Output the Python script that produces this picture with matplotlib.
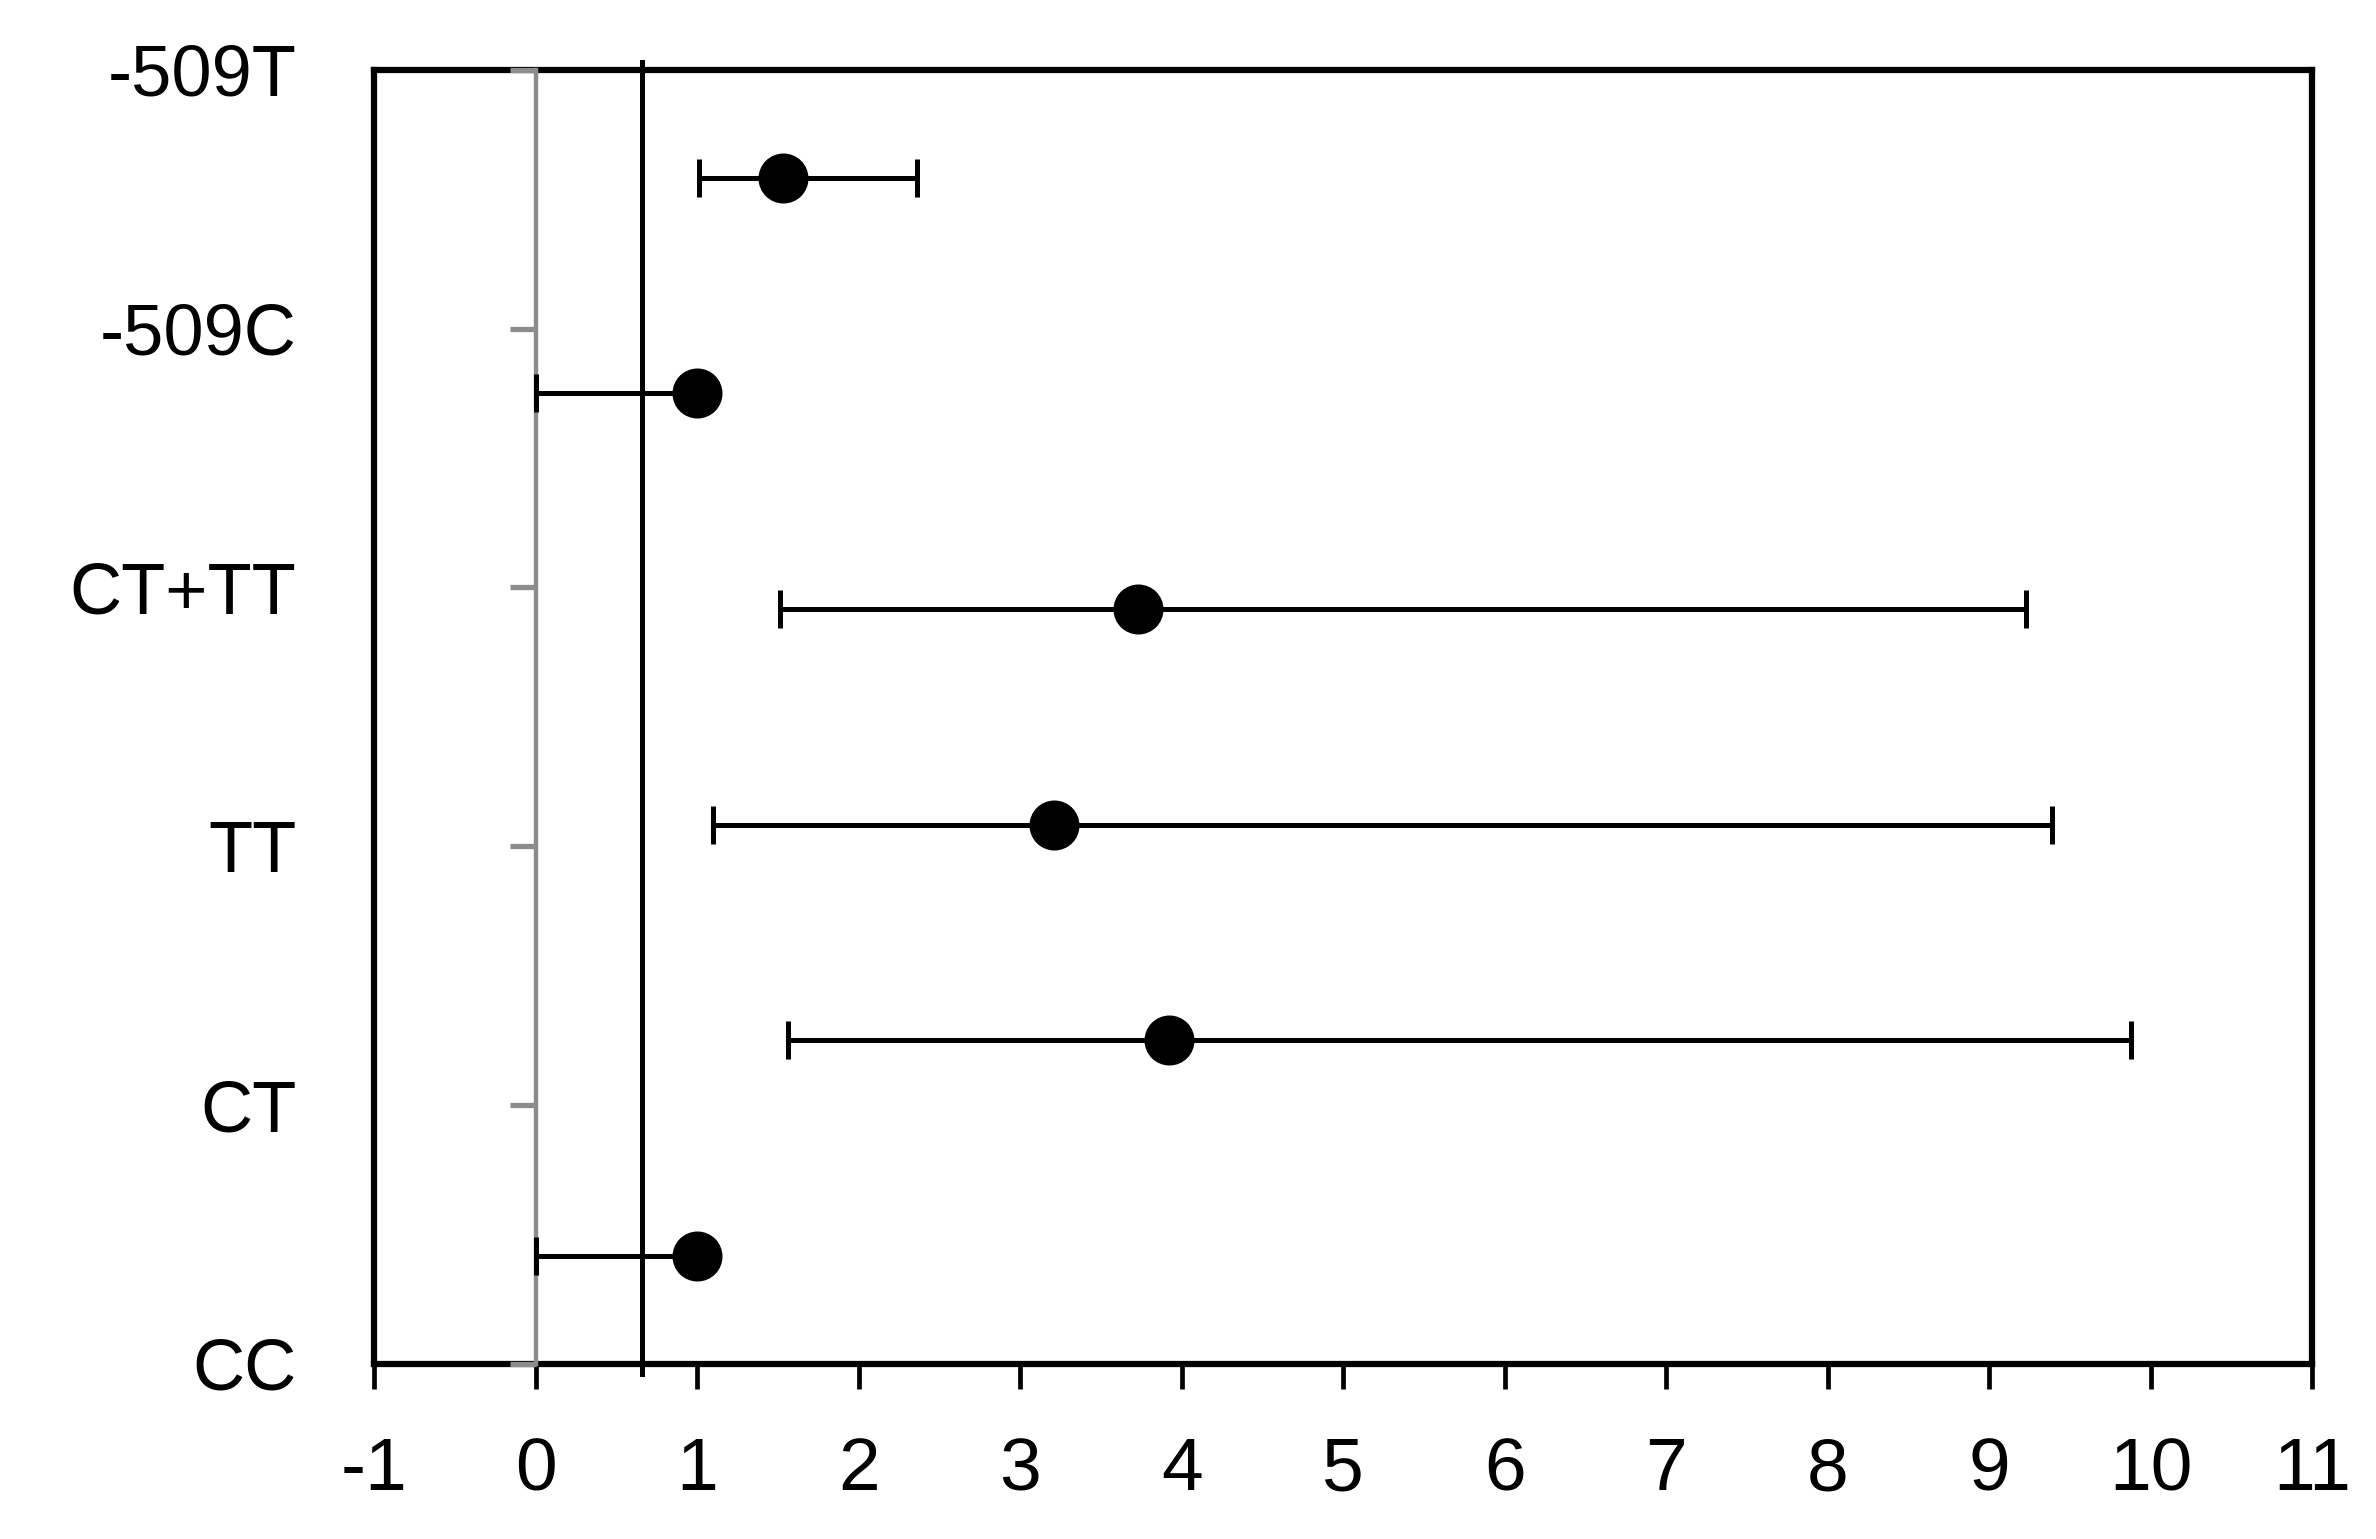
import numpy as np
import matplotlib
matplotlib.use('Agg')
import matplotlib.pyplot as plt

# genotype groups, bottom to top
labels = ['CC', 'CT', 'TT', 'CT+TT', '-509C', '-509T']
odds = [1.0, 3.92, 3.21, 3.73, 1.0, 1.53]
ci_low = [0.0, 1.56, 1.10, 1.51, 0.0, 1.01]
ci_high = [1.0, 9.88, 9.39, 9.23, 1.0, 2.36]
ref_line = 0.66
xticks = list(range(-1, 12))

plt.rcParams['font.family'] = ['Liberation Sans', 'DejaVu Sans']

fig = plt.figure(figsize=(23.76, 15.39), dpi=100)
ax = fig.add_axes([0.1575, 0.1138, 0.8157, 0.8409])

n = len(labels)
ypos = np.arange(n) + 0.5
odds = np.array(odds)
err = [odds - np.array(ci_low), np.array(ci_high) - odds]

ax.errorbar(odds, ypos, xerr=err, fmt='none', ecolor='black', elinewidth=3.6,
            capsize=14, capthick=3.6, zorder=4)
ax.plot(odds, ypos, 'o', color='black', ms=35, zorder=5)

ax.axvline(ref_line, ymin=-0.008, ymax=1.006, color='black', lw=3.6,
           clip_on=False, zorder=3)

ax.set_xlim(-1, 11)
ax.set_ylim(0, n)
ax.set_xticks(xticks)
ax.set_xticklabels([str(t) for t in xticks], fontsize=54)
ax.tick_params(axis='x', direction='out', length=18, width=3.4, pad=34, color='black')

tick_y = np.linspace(0, n, n)
ax.set_yticks(tick_y)
ax.set_yticklabels(labels, fontsize=52)
ax.tick_params(axis='y', length=0, pad=56)

for s in ax.spines.values():
    s.set_linewidth(4.5)
    s.set_color('black')

# grey category axis at x = 0
sec = ax.secondary_yaxis(1 / 12)
sec.set_zorder(3)
sec.spines['left'].set_color('#8c8c8c')
sec.spines['left'].set_linewidth(3.2)
sec.set_yticks(tick_y)
sec.set_yticklabels([])
sec.tick_params(axis='y', direction='out', length=19, width=3.8, color='#8c8c8c')

fig.savefig('out.png', dpi=100)
